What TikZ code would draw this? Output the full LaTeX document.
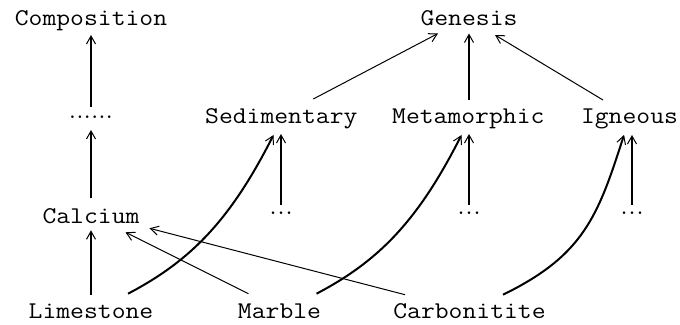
\documentclass[tikz,border=0pt]{standalone}
\usepackage{fontspec}
\usepackage{graphicx}
\usetikzlibrary{arrows.meta,calc}
\newcommand{\mytt}[1]{\scalebox{1.12}[1]{#1}}
\begin{document}
\begin{tikzpicture}[x=0.5pt,y=-0.5pt,
  lbl/.style={font=\fontsize{12}{14}\selectfont\ttfamily, inner sep=0pt, anchor=base},
  dotlbl/.style={font=\fontsize{16}{16}\selectfont\rmfamily, inner sep=0pt, anchor=base},
  longdots/.style={font=\fontsize{13.5}{14}\selectfont\rmfamily, inner sep=0pt, anchor=base},
  tipped/.style={-{Straight Barb[length=4pt,width=4.5pt,line width=0.5pt]}},
  heavy/.style={tipped, line width=1pt},
  light/.style={tipped, line width=0.5pt}]
\useasboundingbox (0,0) rectangle (680,325);
% nodes
\node[lbl] (comp) at (91,25.5) {\mytt{Composition}};
\node[lbl] (gen) at (469,25.5) {\mytt{Genesis}};
\node[longdots] (dots1) at (91,119) {......};
\node[lbl] (sed) at (281.3,124) {\mytt{Sedimentary}};
\node[lbl] (meta) at (468.3,124) {\mytt{Metamorphic}};
\node[lbl] (ign) at (629.5,124) {\mytt{Igneous}};
\node[lbl] (calc) at (91,223.3) {\mytt{Calcium}};
\node[dotlbl] (dotsS) at (281,214.5) {...};
\node[dotlbl] (dotsM) at (469,214.5) {...};
\node[dotlbl] (dotsI) at (632,214.5) {...};
\node[lbl] (lime) at (91,318.7) {\mytt{Limestone}};
\node[lbl] (marble) at (279.5,318.7) {\mytt{Marble}};
\node[lbl] (carb) at (469.5,318.7) {\mytt{Carbonitite}};
% left column
\draw[heavy] ($(dots1.base)+(0,-12)$) -- ($(comp.base)+(0,9.5)$);
\draw[heavy] ($(calc.base)+(0,-25)$) -- ($(dots1.base)+(0,11)$);
\draw[heavy] ($(lime.base)+(0,-24)$) -- ($(calc.base)+(0,7)$);
% genesis
\draw[light] ($(sed.base)+(32,-25)$) -- ($(gen.base)+(-31,8)$);
\draw[heavy] ($(gen.base|-meta.base)+(0,-24)$) -- ($(gen.base)+(0,8)$);
\draw[light] ($(ign.base)+(-26.5,-24)$) -- ($(gen.base)+(26,9.5)$);
% dots to classes
\draw[heavy] ($(dotsS.base)+(0,-9.5)$) -- ($(dotsS.base|-sed.base)+(0,10)$);
\draw[heavy] ($(dotsM.base)+(0,-9.5)$) -- ($(dotsM.base|-meta.base)+(0,10)$);
\draw[heavy] ($(dotsI.base)+(0,-9.5)$) -- ($(dotsI.base|-ign.base)+(0,11)$);
% curves
\draw[heavy] ($(lime.base)+(37,-25)$) .. controls +(63,-33) and +(-43,85) .. ($(dotsS.base|-sed.base)+(-7.5,11)$);
\draw[heavy] ($(marble.base)+(37,-25)$) .. controls +(63,-33) and +(-43,85) .. ($(dotsM.base|-meta.base)+(-7.5,11)$);
\draw[heavy] ($(carb.base)+(33.5,-24)$) .. controls +(81,-39.5) and +(-26,81) .. ($(dotsI.base|-ign.base)+(-8,11)$);
% to calcium
\draw[light] ($(marble.base)+(-31,-25)$) -- ($(calc.base)+(34.5,9)$);
\draw[light] ($(carb.base)+(-64.5,-24)$) -- ($(calc.base)+(58.5,5)$);
\end{tikzpicture}
\end{document}
